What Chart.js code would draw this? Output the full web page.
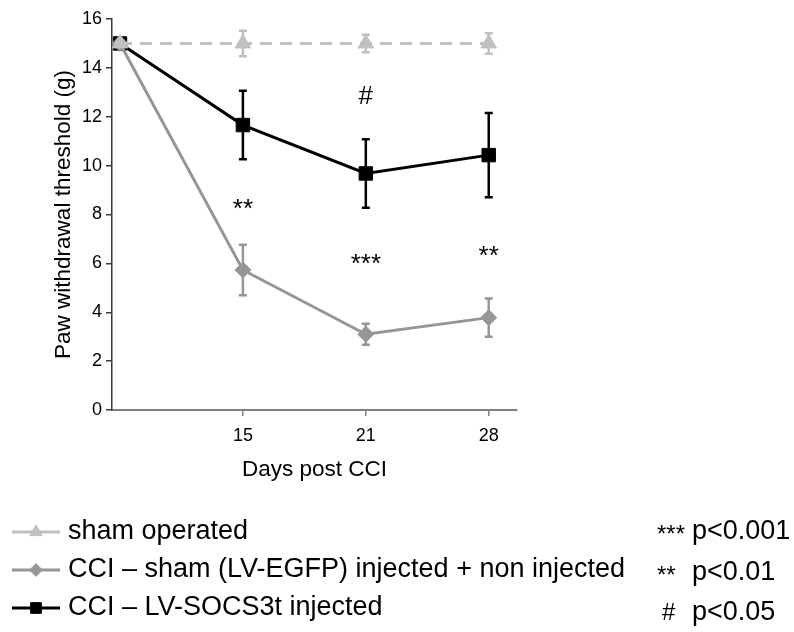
<!DOCTYPE html>
<html>
<head>
<meta charset="utf-8">
<title>Paw withdrawal threshold</title>
<script src="https://cdn.jsdelivr.net/npm/chart.js@4.4.1/dist/chart.umd.min.js"></script>
<style>
    html, body { margin: 0; padding: 0; background: #fff; }
    canvas { display: block; }
</style>
</head>
<body>
<canvas id="grafica" width="794" height="632"></canvas>
<script>
// Datos
const dayLabels = ['', '15', '21', '28'];
const dayIndex = [0, 1, 2, 3];

const seriesLabels = [
    'sham operated',
    'CCI \u2013 sham (LV-EGFP) injected + non injected',
    'CCI \u2013 LV-SOCS3t injected'
];

const shamValues = [15, 15, 15, 15];
const shamErr = [0, 0.52, 0.36, 0.42];

const cciShamValues = [15, 5.73, 3.1, 3.78];
const cciShamErr = [0, 1.03, 0.43, 0.78];

const socsValues = [15, 11.66, 9.68, 10.43];
const socsErr = [0, 1.4, 1.4, 1.72];

// Marcas de significancia dentro de la grafica
const markText = ['**', '#', '***', '**'];
const markDay = [1, 2, 2, 3];
const markY = [8.2, 12.8, 5.95, 6.25];

// Leyenda de valores p
const pSymbols = ['***', '**', '#'];
const pLabels = ['p<0.001', 'p<0.01', 'p<0.05'];

const yMin = 0;
const yMax = 16;
const yStep = 2;

// Colores
const COLORES = {
    sham: '#c0c0c0',
    cciSham: '#969696',
    socs: '#000000',
    ejeY: '#3a3a3a',
    ejeX: '#808080',
    texto: '#000000'
};

const FUENTE = "'Liberation Sans', Arial, Helvetica, sans-serif";

function puntos(valores) {
    return valores.map((v, i) => ({ x: dayIndex[i], y: v }));
}

/**
 * Barras de error, dibujadas debajo de los marcadores de cada serie
 */
const barrasError = {
    id: 'barrasError',
    beforeDatasetDraw(chart, args) {
        const ds = chart.data.datasets[args.index];
        if (!ds.errores) return;
        const { ctx, scales: { x, y } } = chart;
        ctx.save();
        ctx.strokeStyle = ds.borderColor;
        ctx.lineWidth = 2.5;
        ctx.setLineDash([]);
        ds.data.forEach((p, i) => {
            const e = ds.errores[i];
            if (!e) return;
            const px = x.getPixelForValue(p.x);
            const top = y.getPixelForValue(p.y + e);
            const bot = y.getPixelForValue(p.y - e);
            ctx.beginPath();
            ctx.moveTo(px, top);
            ctx.lineTo(px, bot);
            ctx.moveTo(px - 4, top);
            ctx.lineTo(px + 4, top);
            ctx.moveTo(px - 4, bot);
            ctx.lineTo(px + 4, bot);
            ctx.stroke();
        });
        ctx.restore();
    }
};

/**
 * Asteriscos y numeral sobre los puntos
 */
const marcas = {
    id: 'marcas',
    afterDatasetsDraw(chart) {
        const { ctx, scales: { x, y } } = chart;
        ctx.save();
        ctx.fillStyle = COLORES.texto;
        ctx.font = '26px ' + FUENTE;
        ctx.textAlign = 'center';
        ctx.textBaseline = 'middle';
        markText.forEach((t, i) => {
            ctx.fillText(t, x.getPixelForValue(markDay[i]), y.getPixelForValue(markY[i]));
        });
        ctx.restore();
    }
};

/**
 * Leyenda propia (series a la izquierda, valores p a la derecha)
 */
const leyenda = {
    id: 'leyenda',
    afterDraw(chart) {
        const { ctx } = chart;
        const filas = [532, 570, 608];
        const filasP = [532, 573, 613];
        ctx.save();
        chart.data.datasets.forEach((ds, i) => {
            const yy = filas[i];
            ctx.strokeStyle = ds.borderColor;
            ctx.lineWidth = ds.borderWidth;
            ctx.setLineDash([]);
            ctx.beginPath();
            ctx.moveTo(12, yy);
            ctx.lineTo(60, yy);
            ctx.stroke();
            ctx.fillStyle = ds.pointBackgroundColor;
            ctx.strokeStyle = ds.pointBorderColor;
            ctx.lineWidth = 1;
            Chart.helpers.drawPoint(ctx, {
                pointStyle: ds.pointStyle,
                radius: ds.pointRadius * 0.8,
                rotation: 0,
                borderWidth: 1
            }, 36, yy);
            ctx.fillStyle = COLORES.texto;
            ctx.font = '27px ' + FUENTE;
            ctx.textAlign = 'left';
            ctx.textBaseline = 'middle';
            ctx.fillText(ds.label, 68, yy);
        });
        ctx.textAlign = 'left';
        ctx.textBaseline = 'middle';
        pSymbols.forEach((s, i) => {
            ctx.font = '24px ' + FUENTE;
            ctx.fillText(s, s === '#' ? 662 : 657, filasP[i] + (s === '#' ? 0 : 3));
            ctx.font = '27px ' + FUENTE;
            ctx.fillText(pLabels[i], 692, filasP[i]);
        });
        ctx.restore();
    }
};

function crearSerie(label, valores, errores, color, estilo, radio, extra = {}) {
    return {
        label: label,
        data: puntos(valores),
        errores: errores,
        borderColor: color,
        backgroundColor: color,
        borderWidth: 3,
        pointStyle: estilo,
        pointRadius: radio,
        pointBackgroundColor: color,
        pointBorderColor: color,
        pointBorderWidth: 1,
        showLine: true,
        tension: 0,
        fill: false,
        ...extra
    };
}

Chart.defaults.font.family = FUENTE;
Chart.defaults.color = COLORES.texto;

new Chart(document.getElementById('grafica'), {
    type: 'line',
    data: {
        datasets: [
            crearSerie(seriesLabels[0], shamValues, shamErr, COLORES.sham, 'triangle', 9, { borderDash: [12, 8] }),
            crearSerie(seriesLabels[1], cciShamValues, cciShamErr, COLORES.cciSham, 'rectRot', 8),
            crearSerie(seriesLabels[2], socsValues, socsErr, COLORES.socs, 'rect', 9.5)
        ]
    },
    options: {
        responsive: false,
        animation: false,
        layout: { padding: { top: 19, right: 277, bottom: 142, left: 0 } },
        plugins: {
            legend: { display: false },
            tooltip: { enabled: false }
        },
        scales: {
            x: {
                type: 'linear',
                min: -0.065,
                max: 3.23,
                afterBuildTicks: (scale) => {
                    scale.ticks = dayIndex.filter(i => dayLabels[i] !== '').map(i => ({ value: i }));
                },
                afterFit: (scale) => { scale.height = 80; },
                ticks: {
                    callback: (v) => dayLabels[v],
                    font: { size: 18 },
                    padding: 9,
                    maxRotation: 0
                },
                grid: {
                    drawOnChartArea: false,
                    drawTicks: true,
                    tickLength: 6,
                    color: COLORES.ejeX,
                    lineWidth: 1.5
                },
                border: { display: true, color: COLORES.ejeX, width: 2 },
                title: {
                    display: true,
                    text: 'Days post CCI',
                    font: { size: 22.5 },
                    padding: { top: 0, bottom: 7 }
                }
            },
            y: {
                min: yMin,
                max: yMax,
                afterFit: (scale) => { scale.width = 112; },
                ticks: {
                    stepSize: yStep,
                    font: { size: 18 },
                    padding: 4
                },
                grid: {
                    drawOnChartArea: false,
                    drawTicks: true,
                    tickLength: 6,
                    color: COLORES.ejeY,
                    lineWidth: 1.5
                },
                border: { display: true, color: COLORES.ejeY, width: 1.5 },
                title: {
                    display: true,
                    text: 'Paw withdrawal threshold (g)',
                    font: { size: 22.5 },
                    padding: { top: 50, bottom: 0 }
                }
            }
        }
    },
    plugins: [barrasError, marcas, leyenda]
});
</script>
</body>
</html>
